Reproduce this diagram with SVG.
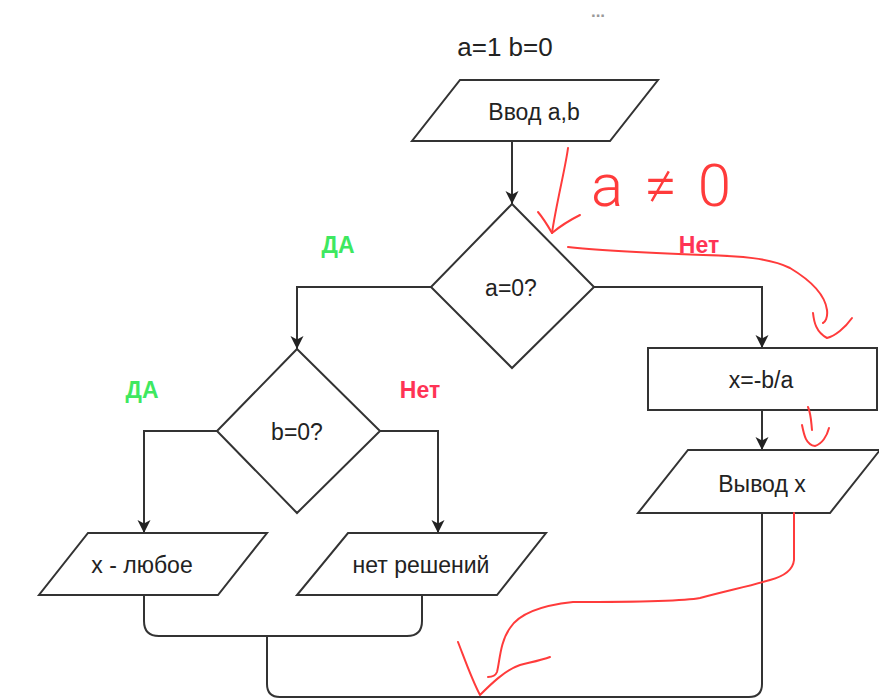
<svg xmlns="http://www.w3.org/2000/svg" width="879" height="699" viewBox="0 0 879 699">
  <defs>
    <marker id="arrow" markerUnits="userSpaceOnUse" markerWidth="14" markerHeight="14" refX="13" refY="6.5" orient="auto">
      <path d="M0,0 L13,6.5 L0,13 L3.5,6.5 z" fill="#222"/>
    </marker>
    <style>
      .shape { fill: #fff; stroke: #333; stroke-width: 2; }
      .edge { fill: none; stroke: #333; stroke-width: 2; }
      .label { font-family: "Liberation Sans", Arial, sans-serif; font-size: 23px; fill: #222; text-anchor: middle; }
      .yes { font-family: "Liberation Sans", Arial, sans-serif; font-size: 23px; font-weight: bold; fill: #3ee860; text-anchor: middle; }
      .no { font-family: "Liberation Sans", Arial, sans-serif; font-size: 23px; font-weight: bold; fill: #ff3355; text-anchor: middle; }
      .pen { fill: none; stroke: #ff3b3b; stroke-width: 2; stroke-linecap: round; stroke-linejoin: round; }
    </style>
  </defs>

  <rect x="0" y="0" width="879" height="699" fill="#fff"/>

  <!-- header -->
  <text x="598" y="17" font-family="Liberation Sans, Arial, sans-serif" font-size="17" font-weight="bold" fill="#999" text-anchor="middle">...</text>
  <text class="label" x="505" y="56" style="font-size:26px">a=1 b=0</text>

  <!-- connectors -->
  <g id="connectors">
    <path class="edge" d="M512,141 V204" marker-end="url(#arrow)"/>
    <path class="edge" d="M431,287 H297 V349" marker-end="url(#arrow)"/>
    <path class="edge" d="M594,287 H762 V348" marker-end="url(#arrow)"/>
    <path class="edge" d="M217,431 H144 V533" marker-end="url(#arrow)"/>
    <path class="edge" d="M380,431 H438 V533" marker-end="url(#arrow)"/>
    <path class="edge" d="M762,410 V450" marker-end="url(#arrow)"/>
    <path class="edge" d="M144,595 V621 Q144,636 159,636 H407 Q422,636 422,621 V595"/>
    <path class="edge" d="M267,636 V684 Q267,697 280,697 H749 Q762,697 762,684 V513"/>
  </g>

  <!-- nodes -->
  <g id="input">
    <polygon class="shape" points="460,80 658,80 610,141 412,141"/>
    <text class="label" x="534" y="120">Ввод а,b</text>
  </g>
  <g id="check-a">
    <polygon class="shape" points="512,204 594,287 512,368 431,287"/>
    <text class="label" x="511" y="296">a=0?</text>
  </g>
  <g id="check-b">
    <polygon class="shape" points="297,349 380,431 297,513 217,431"/>
    <text class="label" x="297" y="440">b=0?</text>
  </g>
  <g id="any-x">
    <polygon class="shape" points="88,533 267,533 218,595 39,595"/>
    <text class="label" x="142" y="573">x - любое</text>
  </g>
  <g id="no-solution">
    <polygon class="shape" points="348,533 546,533 497,595 297,595"/>
    <text class="label" x="421" y="573">нет решений</text>
  </g>
  <g id="compute">
    <rect class="shape" x="648" y="348" width="229" height="62"/>
    <text class="label" x="761" y="388">x=-b/a</text>
  </g>
  <g id="output">
    <polygon class="shape" points="688,450 880,450 830,513 638,513"/>
    <text class="label" x="762" y="492">Вывод x</text>
  </g>

  <!-- branch labels -->
  <g id="branch-labels">
    <text class="yes" x="338" y="253">ДА</text>
    <text class="no" x="699" y="253">Нет</text>
    <text class="yes" x="142" y="398">ДА</text>
    <text class="no" x="420" y="398">Нет</text>
  </g>

  <!-- pen annotations -->
  <g id="annotations">
    <path class="pen" d="M568,148 C566,165 556,205 552,233"/>
    <path class="pen" d="M538,212 C543,218 548,226 552,233 C558,228 570,220 580,215"/>
    <text x="591" y="206" font-family="Roboto, 'Liberation Sans', sans-serif" font-weight="300" font-size="60" fill="#ff3b3b" textLength="140" lengthAdjust="spacing">a≠0</text>
    <path class="pen" d="M568,247 C600,251 650,253 703,255 C740,256 770,258 790,268 C810,280 825,295 827,310 C828,318 825,322 823,323"/>
    <path class="pen" d="M813,313 C814,322 816,332 827,338 C835,336 845,328 852,318"/>
    <path class="pen" d="M808,407 C811,414 811,420 812,430"/>
    <path class="pen" d="M802,425 C804,435 806,445 815,446 C822,444 827,436 829,428"/>
    <path class="pen" d="M794,513 L794,560 C793,570 785,576 770,580 C750,586 730,590 700,598 C680,602 600,602 573,602 C545,605 520,612 510,628 C500,642 500,660 497,672 C495,677 490,677 488,677"/>
    <path class="pen" d="M458,642 C465,660 472,680 480,695 C490,685 505,670 520,665 C532,662 542,660 550,657"/>
  </g>
</svg>
